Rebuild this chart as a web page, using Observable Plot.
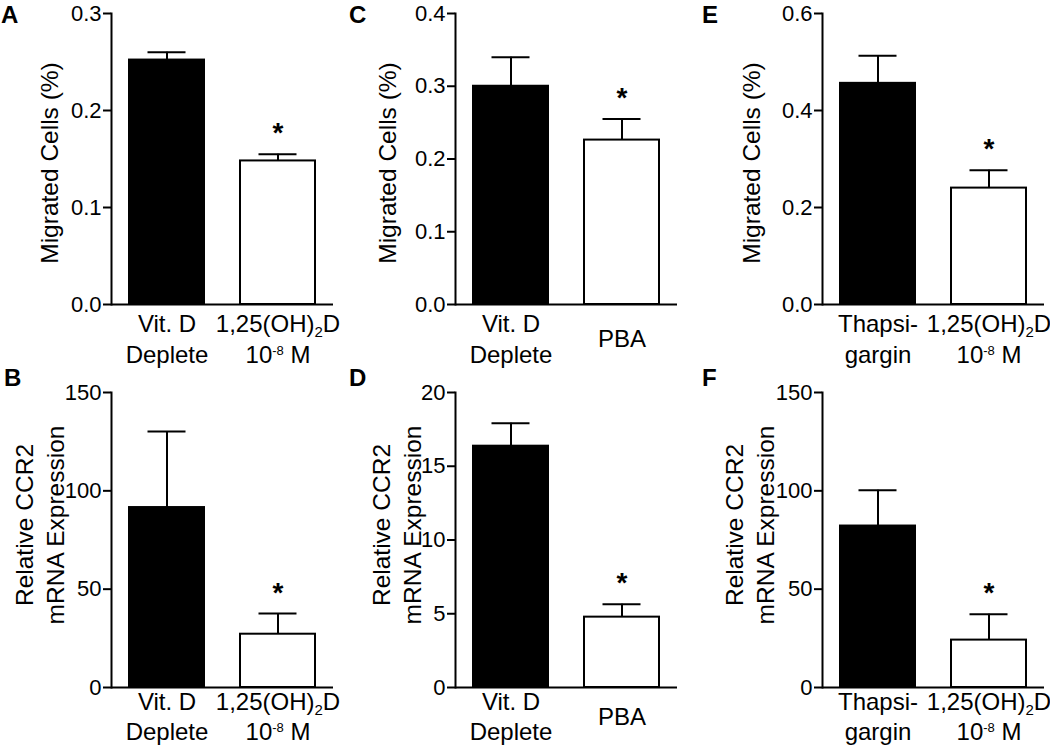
<!DOCTYPE html>
<html><head><meta charset="utf-8">
<script src="https://cdn.jsdelivr.net/npm/d3@7"></script>
<script src="https://cdn.jsdelivr.net/npm/@observablehq/plot@0.6"></script>
<style>
body{margin:0;background:#fff;}
#fig{position:relative;width:1050px;height:747px;overflow:hidden;background:#fff;font-family:"Liberation Sans",Arial,sans-serif;}
.panel{position:absolute;}
.letter{position:absolute;font-weight:bold;font-size:24px;line-height:24px;color:#000;}
</style></head><body><div id="fig"></div>
<script>
// ---- data ----
const aLabels = ["Vit. D\nDeplete", "1,25(OH)₂D\n10⁻⁸ M"];
const aMeans = [0.252, 0.148];
const aSems = [0.008, 0.007];
const aSig = [false, true];
const aTicks = [0, 0.1, 0.2, 0.3];

const bLabels = ["Vit. D\nDeplete", "1,25(OH)₂D\n10⁻⁸ M"];
const bMeans = [91.5, 27.1];
const bSems = [38.7, 10.5];
const bSig = [false, true];
const bTicks = [0, 50, 100, 150];

const cLabels = ["Vit. D\nDeplete", "PBA"];
const cMeans = [0.300, 0.226];
const cSems = [0.040, 0.029];
const cSig = [false, true];
const cTicks = [0, 0.1, 0.2, 0.3, 0.4];

const dLabels = ["Vit. D\nDeplete", "PBA"];
const dMeans = [16.36, 4.77];
const dSems = [1.56, 0.88];
const dSig = [false, true];
const dTicks = [0, 5, 10, 15, 20];

const eLabels = ["Thapsi-\ngargin", "1,25(OH)₂D\n10⁻⁸ M"];
const eMeans = [0.456, 0.240];
const eSems = [0.057, 0.037];
const eSig = [false, true];
const eTicks = [0, 0.2, 0.4, 0.6];

const fLabels = ["Thapsi-\ngargin", "1,25(OH)₂D\n10⁻⁸ M"];
const fMeans = [82.1, 24.1];
const fSems = [18.2, 13.2];
const fSig = [false, true];
const fTicks = [0, 50, 100, 150];

const yLabelMig = "Migrated Cells (%)";
const yLabelCCR2 = "Relative CCR2\nmRNA Expression";
const letters = ["A", "B", "C", "D", "E", "F"];

// ---- rendering ----
const FONT = "'Liberation Sans', Arial, Helvetica, sans-serif";
const SUP = {"⁻": "-", "⁸": "8"};
const SUB = {"₂": "2"};
function fixScripts(svg) {
  d3.select(svg).selectAll("text, tspan").each(function() {
    if (this.children.length) return;
    const s = this.textContent;
    if (![...s].some(c => SUP[c] || SUB[c])) return;
    const runs = [];
    for (const c of s) {
      const t = SUP[c] ? "sup" : SUB[c] ? "sub" : "n";
      const ch = SUP[c] || SUB[c] || c;
      if (runs.length && runs[runs.length - 1].t === t) runs[runs.length - 1].s += ch;
      else runs.push({t, s: ch});
    }
    this.textContent = "";
    for (const r of runs) {
      if (r.t === "n") this.appendChild(document.createTextNode(r.s));
      else {
        const ts = document.createElementNS("http://www.w3.org/2000/svg", "tspan");
        ts.setAttribute("font-size", r.t === "sup" ? "13px" : "15px");
        ts.setAttribute("baseline-shift", r.t === "sup" ? "8px" : "-5px");
        ts.textContent = r.s;
        this.appendChild(ts);
      }
    }
  });
}

function panel(o) {
  const data = o.labels.map((l, i) => ({cat: l, mean: o.means[i], sem: o.sems[i], sig: o.sig[i], idx: i}));
  const chart = Plot.plot({
    width: o.width, height: o.height,
    marginTop: o.mt, marginBottom: o.mb, marginLeft: o.ml, marginRight: o.mr,
    style: {fontFamily: FONT, fontSize: "22px", color: "black", background: "white", overflow: "visible"},
    x: {domain: o.labels, paddingInner: 0.324, paddingOuter: 0.162, axis: null},
    y: {domain: [0, o.ticks[o.ticks.length - 1]], axis: null},
    color: {type: "identity"},
    marks: [
      Plot.barY(data, {x: "cat", y: "mean", fill: d => d.idx === 0 ? "black" : "white", stroke: "black", strokeWidth: 2}),
      Plot.ruleX(data, {x: "cat", y1: "mean", y2: d => d.mean + d.sem, stroke: "black", strokeWidth: 2}),
      Plot.tickY(data, {x: "cat", y: d => d.mean + d.sem, inset: 18.5, stroke: "black", strokeWidth: 2}),
      Plot.text(data, {filter: d => d.sig, x: "cat", y: d => d.mean + d.sem, text: () => "*", fontSize: 28, fontWeight: "bold", lineAnchor: "bottom", dy: -12, fill: "black"}),
      Plot.axisY({ticks: o.ticks, tickFormat: o.fmt, tickSize: 8, tickPadding: 2, strokeWidth: 2, fontSize: 22, label: null, fill: "black", stroke: "black"}),
      Plot.frame({anchor: "left", stroke: "black", strokeWidth: 2}),
      Plot.ruleY([0], {stroke: "black", strokeWidth: 2}),
      Plot.text(data, {x: "cat", frameAnchor: "bottom", text: "cat", lineAnchor: "middle", lineHeight: o.xLh, dy: o.xDy, fontSize: 24, fill: "black"}),
      Plot.text([o.ylabel], {frameAnchor: "left", text: d => d, rotate: -90, dx: o.labelDx, dy: o.labelDy, fontSize: 24.5, lineHeight: 1.25, lineAnchor: "middle", textAnchor: "middle", fill: "black"})
    ]
  });
  fixScripts(chart);
  const div = document.createElement("div");
  div.className = "panel";
  div.style.left = o.left + "px";
  div.style.top = o.top + "px";
  div.appendChild(chart);
  document.getElementById("fig").appendChild(div);
  const L = document.createElement("div");
  L.className = "letter";
  L.textContent = o.letter;
  L.style.left = o.lx + "px";
  L.style.top = o.ly + "px";
  document.getElementById("fig").appendChild(L);
}

const fmt1 = d3.format(".1f");
const fmt0 = d3.format("d");
const topRow = {top: 0, height: 370, mt: 13, mb: 66, xDy: 33, xLh: 1.3, labelDy: 4, ly: 3};
const botRow = {top: 370, height: 377, mt: 22, mb: 60, xDy: 28, xLh: 1.25, labelDy: -15, ly: 366};

panel({...topRow, labels: aLabels, means: aMeans, sems: aSems, sig: aSig, ticks: aTicks, fmt: fmt1, ylabel: yLabelMig,
  left: 0, width: 350, ml: 111, mr: 17, labelDx: -63, letter: letters[0], lx: 1});
panel({...botRow, labels: bLabels, means: bMeans, sems: bSems, sig: bSig, ticks: bTicks, fmt: fmt0, ylabel: yLabelCCR2,
  left: 0, width: 350, ml: 111, mr: 17, labelDx: -73, letter: letters[1], lx: 4});
panel({...topRow, labels: cLabels, means: cMeans, sems: cSems, sig: cSig, ticks: cTicks, fmt: fmt1, ylabel: yLabelMig,
  left: 350, width: 350, ml: 105, mr: 23, labelDx: -69, letter: letters[2], lx: 349});
panel({...botRow, labels: dLabels, means: dMeans, sems: dSems, sig: dSig, ticks: dTicks, fmt: fmt0, ylabel: yLabelCCR2,
  left: 350, width: 350, ml: 105, mr: 23, labelDx: -60, letter: letters[3], lx: 349});
panel({...topRow, labels: eLabels, means: eMeans, sems: eSems, sig: eSig, ticks: eTicks, fmt: fmt1, ylabel: yLabelMig,
  left: 700, width: 350, ml: 122, mr: 6, labelDx: -72, letter: letters[4], lx: 702});
panel({...botRow, labels: fLabels, means: fMeans, sems: fSems, sig: fSig, ticks: fTicks, fmt: fmt0, ylabel: yLabelCCR2,
  left: 700, width: 350, ml: 122, mr: 6, labelDx: -74, letter: letters[5], lx: 702});
</script>
</body></html>
